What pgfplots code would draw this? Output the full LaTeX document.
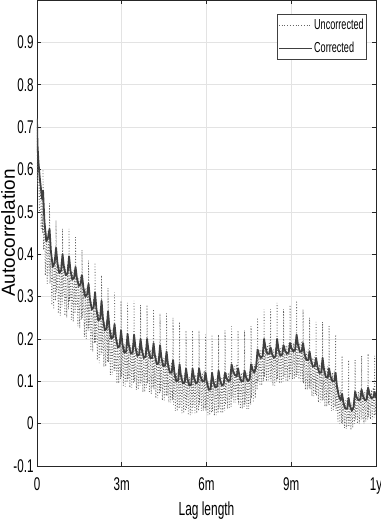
\documentclass[border=0pt]{standalone}
\usepackage{fontspec}
\setmainfont{Liberation Sans}
\newfontfamily\cond{Liberation Sans}[FakeStretch=0.63]
\usepackage{pgfplots}
\pgfplotsset{compat=1.18}
\definecolor{gridgray}{HTML}{E3E3E3}
\definecolor{corr}{HTML}{404040}
\definecolor{uncorr}{HTML}{666666}

\begin{document}
\begin{tikzpicture}
\begin{axis}[
  scale only axis, width=339bp, height=466bp,
  xmin=0, xmax=365, ymin=-0.1, ymax=1,
  xtick={0,91.25,182.5,273.75,365}, xticklabels={0,3m,6m,9m,1y},
  ytick={-0.1,0,0.1,0.2,0.3,0.4,0.5,0.6,0.7,0.8,0.9},
  yticklabels={-0.1,0,0.1,0.2,0.3,0.4,0.5,0.6,0.7,0.8,0.9},
  tick align=inside, tick pos=both, major tick length=4bp,
  grid=major, major grid style={gridgray, line width=0.6pt},
  axis line style={black!85, line width=0.6pt},
  every tick/.style={black!85, line width=0.6pt},
  ticklabel style={font=\fontsize{18.5}{20}\cond},
  xticklabel style={yshift=-8bp},
  xlabel={Lag length}, ylabel={Autocorrelation},
  xlabel style={font=\fontsize{19}{21}\cond, at={(axis description cs:0.5,0)}, anchor=base, yshift=-49bp},
  ylabel style={font=\fontsize{19}{21}\selectfont, inner sep=0pt, at={(axis description cs:-0.0855,0.5)}, anchor=center},
  legend cell align=left,
  legend style={font=\fontsize{14.5}{15}\cond, at={(1,1)}, anchor=north east, xshift=-9bp, yshift=-14bp,
    draw=black!75, line width=0.6pt, inner xsep=1bp, inner ysep=3bp, row sep=7bp, fill=white},
  legend image code/.code={\draw[#1, line width=0.7pt] (0bp,0bp) -- (33bp,0bp);},
]
\addplot[uncorr, dotted, line width=0.8pt] coordinates {
(0,.70)(0.5,.56)(1.5,.63)(2.5,.50)(3.5,.58)(4.5,.46)(5.5,.54)(6,.45)
(6.5,.60)(7,.41)(8,.47)(9,.35)(10,.45)(11,.33)(12,.455)(13,.35)
(13.5,.52)(14,.33)(15,.39)(16,.28)(17,.39)(18,.27)(19,.395)(20,.29)
(20.5,.48)(21,.31)(22,.375)(23,.26)(24,.375)(25,.255)(26,.38)(27,.275)
(27.5,.46)(28,.30)(29,.37)(30,.255)(31,.37)(32,.25)(33,.375)(34,.27)
(34.5,.46)(35,.29)(36,.36)(37,.245)(38,.36)(39,.24)(40,.365)(41,.26)
(41.5,.44)(42,.275)(43,.345)(44,.23)(45,.345)(46,.225)(47,.35)(48,.245)
(48.5,.41)(49,.25)(50,.32)(51,.205)(52,.32)(53,.20)(54,.325)(55,.22)
(55.5,.385)(56,.22)(57,.29)(58,.175)(59,.29)(60,.17)(61,.295)(62,.19)
(62.5,.38)(63,.19)(64,.263)(65,.15)(66,.263)(67,.143)(68,.268)(69,.163)
(69.5,.35)(70,.165)(71,.24)(72,.135)(73,.24)(74,.135)(75,.245)(76,.145)
(76.5,.32)(77,.145)(78,.22)(79,.115)(80,.22)(81,.115)(82,.225)(83,.125)
(83.5,.31)(84,.125)(85,.20)(86,.095)(87,.20)(88,.095)(89,.205)(90,.105)
(90.5,.29)(91,.11)(92,.187)(93,.09)(94,.187)(95,.087)(96,.192)(97,.097)
(97.5,.285)(98,.105)(99,.185)(100,.085)(101,.185)(102,.085)(103,.19)(104,.095)
(104.5,.29)(105,.10)(106,.18)(107,.08)(108,.18)(109,.08)(110,.185)(111,.09)
(111.5,.28)(112,.095)(113,.175)(114,.075)(115,.175)(116,.075)(117,.18)(118,.085)
(118.5,.28)(119,.095)(120,.175)(121,.075)(122,.175)(123,.07)(124,.18)(125,.085)
(125.5,.27)(126,.08)(127,.16)(128,.06)(129,.16)(130,.06)(131,.165)(132,.07)
(132.5,.26)(133,.075)(134,.155)(135,.055)(136,.155)(137,.055)(138,.16)(139,.065)
(139.5,.26)(140,.065)(141,.14)(142,.05)(143,.14)(144,.05)(145,.145)(146,.055)
(146.5,.25)(147,.045)(148,.12)(149,.03)(150,.12)(151,.03)(152,.125)(153,.035)
(153.5,.24)(154,.04)(155,.115)(156,.025)(157,.115)(158,.025)(159,.12)(160,.03)
(160.5,.22)(161,.035)(162,.11)(163,.02)(164,.11)(165,.02)(166,.115)(167,.025)
(167.5,.22)(168,.04)(169,.115)(170,.025)(171,.115)(172,.025)(173,.12)(174,.03)
(174.5,.22)(175,.045)(176,.12)(177,.03)(178,.12)(179,.03)(180,.125)(181,.035)
(181.5,.21)(182,.03)(183,.10)(184,.02)(185,.10)(186,.02)(187,.105)(188,.025)
(188.5,.21)(189,.03)(190,.105)(191,.02)(192,.105)(193,.02)(194,.11)(195,.025)
(195.5,.21)(196,.035)(197,.11)(198,.025)(199,.11)(200,.025)(201,.115)(202,.03)
(202.5,.22)(203,.045)(204,.12)(205,.035)(206,.12)(207,.035)(208,.125)(209,.04)
(209.5,.23)(210,.06)(211,.135)(212,.05)(213,.135)(214,.05)(215,.14)(216,.055)
(216.5,.22)(217,.045)(218,.12)(219,.035)(220,.12)(221,.035)(222,.125)(223,.04)
(223.5,.22)(224,.045)(225,.12)(226,.035)(227,.12)(228,.035)(229,.125)(230,.045)
(230.5,.23)(231,.06)(232,.14)(233,.05)(234,.14)(235,.06)(236,.15)(237,.08)
(237.5,.25)(238,.10)(239,.175)(240,.09)(241,.175)(242,.09)(243,.18)(244,.10)
(244.5,.27)(245,.11)(246,.185)(247,.10)(248,.185)(249,.10)(250,.19)(251,.105)
(251.5,.27)(252,.10)(253,.175)(254,.09)(255,.175)(256,.09)(257,.18)(258,.10)
(258.5,.285)(259,.105)(260,.18)(261,.095)(262,.18)(263,.095)(264,.185)(265,.10)
(265.5,.27)(266,.11)(267,.185)(268,.10)(269,.185)(270,.10)(271,.19)(272,.105)
(272.5,.28)(273,.115)(274,.19)(275,.105)(276,.19)(277,.105)(278,.195)(279,.11)
(279.5,.29)(280,.115)(281,.19)(282,.105)(283,.19)(284,.10)(285,.195)(286,.10)
(286.5,.27)(287,.095)(288,.17)(289,.08)(290,.17)(291,.08)(292,.175)(293,.085)
(293.5,.25)(294,.08)(295,.155)(296,.065)(297,.155)(298,.065)(299,.16)(300,.07)
(300.5,.24)(301,.065)(302,.14)(303,.05)(304,.14)(305,.05)(306,.145)(307,.055)
(307.5,.24)(308,.055)(309,.13)(310,.04)(311,.13)(312,.04)(313,.135)(314,.045)
(314.5,.23)(315,.045)(316,.12)(317,.03)(318,.12)(319,.03)(320,.125)(321,.04)
(321.5,.21)(322,.03)(323,.09)(324,.005)(325,.085)(326,.0)(327,.08)(328,.0)
(328.5,.16)(329,.0)(330,.055)(331,-.01)(332,.055)(333,-.012)(334,.06)(335,-.005)
(335.5,.15)(336,-.005)(337,.05)(338,-.015)(339,.05)(340,-.01)(341,.06)(342,.0)
(342.5,.15)(343,.01)(344,.075)(345,.0)(346,.075)(347,.0)(348,.08)(349,.01)
(349.5,.16)(350,.01)(351,.075)(352,.0)(353,.075)(354,.005)(355,.08)(356,.01)
(356.5,.165)(357,.015)(358,.08)(359,.01)(360,.08)(361,.01)(362,.085)(363,.015)
(363.5,.16)(364,.02)(365,.07)
};
\addlegendentry{Uncorrected}
\addplot[corr, line width=1.8pt, line join=round] coordinates {
(0,.72)(0.5,.66)(1.5,.62)(3,.58)(4.5,.55)(5.5,.53)
(6.5,.55)(8,.478)(10,.43)(12,.44)
(13.5,.46)(15,.406)(17,.37)(19,.38)
(20.5,.415)(22,.379)(24,.355)(26,.362)
(27.5,.40)(29,.37)(31,.35)(33,.355)
(34.5,.395)(36,.362)(38,.34)(40,.345)
(41.5,.37)(43,.343)(45,.325)(47,.33)
(48.5,.35)(50,.32)(52,.30)(54,.305)
(55.5,.33)(57,.294)(59,.27)(61,.275)
(62.5,.31)(64,.27)(66,.243)(68,.248)
(69.5,.29)(71,.248)(73,.22)(75,.225)
(76.5,.265)(78,.226)(80,.20)(82,.205)
(83.5,.235)(85,.202)(87,.18)(89,.183)
(90.5,.22)(92,.188)(94,.167)(96,.17)
(97.5,.212)(99,.184)(101,.165)(103,.168)
(104.5,.21)(106,.18)(108,.16)(110,.163)
(111.5,.20)(113,.173)(115,.155)(117,.158)
(118.5,.20)(120,.173)(122,.155)(124,.155)
(125.5,.19)(127,.16)(129,.14)(131,.143)
(132.5,.185)(134,.155)(136,.135)(138,.138)
(139.5,.17)(141,.14)(143,.12)(145,.12)
(146.5,.15)(148,.12)(150,.10)(152,.102)
(153.5,.14)(155,.113)(157,.095)(159,.097)
(160.5,.13)(162,.106)(164,.09)(166,.092)
(167.5,.13)(169,.109)(171,.095)(173,.098)
(174.5,.13)(176,.112)(178,.10)(180,.10)
(181.5,.12)(183,.096)(185,.08)(187,.082)
(188.5,.12)(190,.099)(192,.085)(194,.088)
(195.5,.125)(197,.104)(199,.09)(201,.093)
(202.5,.12)(204,.108)(206,.10)(208,.103)
(209.5,.14)(211,.125)(213,.115)(215,.112)
(216.5,.13)(218,.112)(220,.10)(222,.10)
(223.5,.125)(225,.11)(227,.10)(229,.105)
(230.5,.14)(232,.128)(234,.12)(236,.135)
(237.5,.175)(239,.163)(241,.155)(243,.16)
(244.5,.20)(246,.179)(248,.165)(250,.165)
(251.5,.18)(253,.165)(255,.155)(257,.16)
(258.5,.20)(260,.176)(262,.16)(264,.163)
(265.5,.185)(267,.173)(269,.165)(271,.168)
(272.5,.19)(274,.178)(276,.17)(278,.175)
(279.5,.21)(281,.186)(283,.17)(285,.17)
(286.5,.19)(288,.166)(290,.15)(292,.15)
(293.5,.17)(295,.149)(297,.135)(299,.135)
(300.5,.155)(302,.134)(304,.12)(306,.12)
(307.5,.155)(309,.128)(311,.11)(313,.108)
(314.5,.13)(316,.112)(318,.10)(320,.10)
(321.5,.12)(323,.087)(325,.065)(327,.055)
(328.5,.07)(330,.049)(332,.035)(334,.035)
(335.5,.06)(337,.042)(339,.03)(341,.04)
(342.5,.075)(344,.063)(346,.055)(348,.057)
(349.5,.08)(351,.065)(353,.055)(355,.057)
(356.5,.085)(358,.07)(360,.06)(362,.062)
(363.5,.075)(365,.06)
};
\addlegendentry{Corrected}
\end{axis}
\pgfresetboundingbox
\path[use as bounding box] ([shift={(-37bp,-57bp)}]current axis.south west) rectangle ([shift={(5bp,0bp)}]current axis.north east);
\end{tikzpicture}
\end{document}
